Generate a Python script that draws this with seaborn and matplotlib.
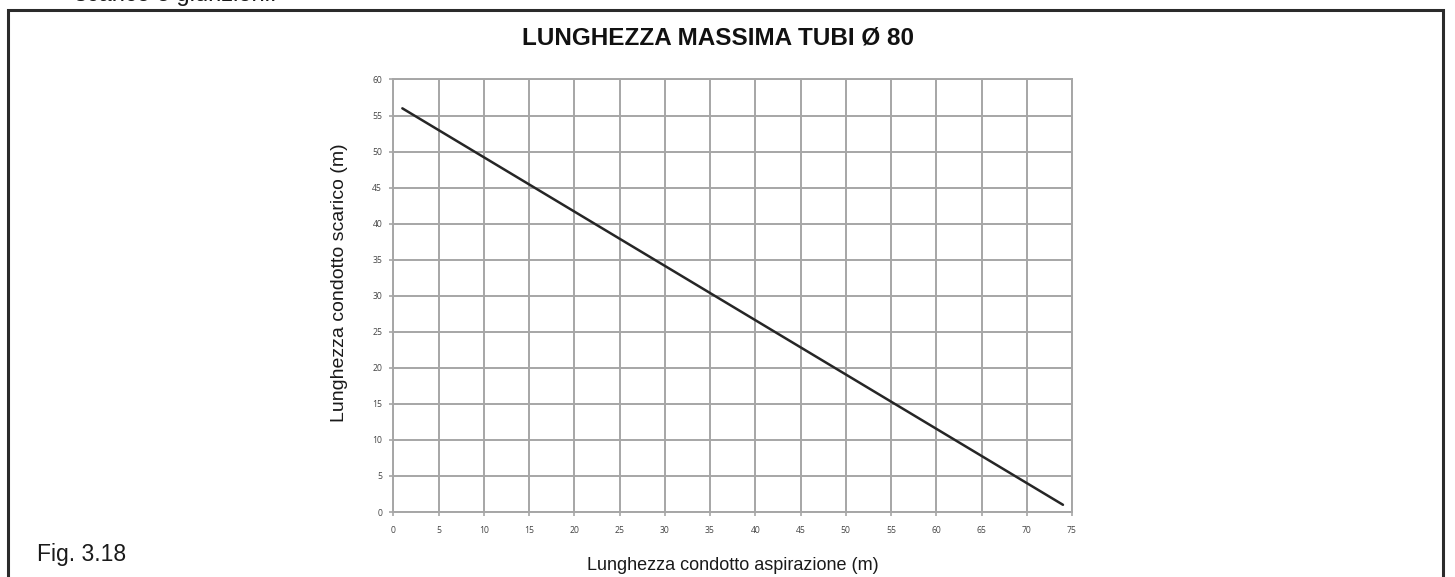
import matplotlib
matplotlib.use("Agg")
import matplotlib.pyplot as plt
import matplotlib.patches as mpatches
import numpy as np
import pandas as pd
import seaborn as sns

# Max pipe length trade-off: intake length vs. exhaust length (Ø 80 mm)
aspirazione_m = [1, 74]
scarico_m = [56, 1]
x_ticks = list(range(0, 80, 5))
y_ticks = list(range(0, 65, 5))

sns.set_theme(style="white")
plt.rcParams["font.family"] = ["Liberation Sans", "DejaVu Sans"]

W, H = 1455, 577
fig = plt.figure(figsize=(W / 100, H / 100), dpi=100)
fig.patch.set_facecolor("white")

# page frame around the figure
frame = mpatches.Rectangle((8 / W, -0.05), (1443 - 8) / W, 1.05 - 10 / H,
                           transform=fig.transFigure, fill=False,
                           edgecolor="#2b2b2b", linewidth=2.2, zorder=5)
fig.patches.append(frame)

ax = fig.add_axes([393.3 / W, 65 / H, (1072 - 393.3) / W, (512 - 79.5) / H])

df = pd.DataFrame({"aspirazione": aspirazione_m, "scarico": scarico_m})
sns.lineplot(data=df, x="aspirazione", y="scarico", ax=ax,
             color="#262626", linewidth=1.8, zorder=3)

ax.set_xlim(0, 75)
ax.set_ylim(0, 60)
ax.set_xticks(x_ticks)
ax.set_yticks(y_ticks)
ax.set_xticklabels([str(t) for t in x_ticks])
ax.set_yticklabels([str(t) for t in y_ticks])
ax.grid(True, color="#a6a6a6", linewidth=1.4)
ax.set_axisbelow(True)
for s in ax.spines.values():
    s.set_color("#a6a6a6")
    s.set_linewidth(1.4)
ax.tick_params(axis="both", which="major", length=3, width=1.2, color="#a6a6a6",
               labelsize=6.2, labelcolor="#444444", pad=5, direction="out",
               bottom=True, left=True)
ax.tick_params(axis="x", pad=7)
for lbl in ax.get_xticklabels() + ax.get_yticklabels():
    lbl.set_family(["Open Sans", "DejaVu Sans"])
ax.set_xlabel("")
ax.set_ylabel("")

fig.text(340 / W, 1 - 283 / H, "Lunghezza condotto scarico (m)", rotation=90,
         ha="center", va="center", fontsize=14, color="#1a1a1a")
fig.text(732.5 / W, 1 - 565 / H, "Lunghezza condotto aspirazione (m)",
         ha="center", va="center", fontsize=13, color="#1a1a1a")
fig.text(718 / W, 1 - 38 / H, "LUNGHEZZA MASSIMA TUBI Ø 80",
         ha="center", va="center", fontsize=17.5, fontweight="bold", color="#111111")
fig.text(37 / W, 1 - 555 / H, "Fig. 3.18", ha="left", va="center",
         fontsize=16.5, color="#1a1a1a")
fig.text(75 / W, 1 - 1 / H, "scarico e giunzioni.", ha="left", va="baseline",
         fontsize=17, color="#1a1a1a")

fig.savefig("out.png", dpi=100, facecolor="white")
